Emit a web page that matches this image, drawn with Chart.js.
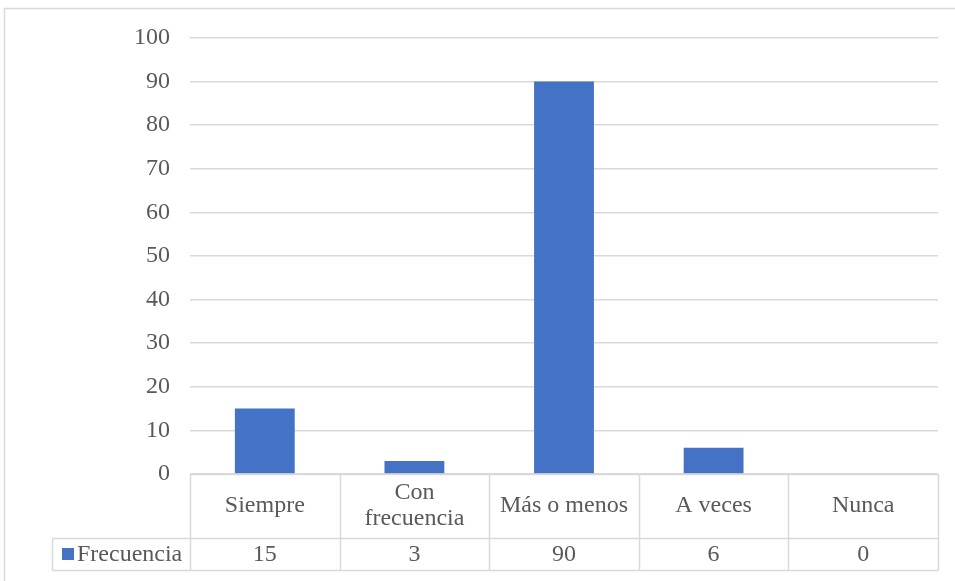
<!DOCTYPE html>
<html>
<head>
<meta charset="utf-8">
<script src="https://cdn.jsdelivr.net/npm/chart.js@4.4.1/dist/chart.umd.min.js"></script>
<style>
  html, body { margin: 0; padding: 0; background: #ffffff; }
  #wrap { position: relative; width: 955px; height: 581px; }
</style>
</head>
<body>
<div id="wrap"><canvas id="c" width="955" height="581"></canvas></div>
<script>
// Categories, one series and the value axis ticks
const categories = ['Siempre', ['Con', 'frecuencia'], 'Más o menos', 'A veces', 'Nunca'];
const seriesName = 'Frecuencia';
const frecuencia = [15, 3, 90, 6, 0];
const yTicks = [0, 10, 20, 30, 40, 50, 60, 70, 80, 90, 100];

const TEXT = '#595959';
const LINE = '#d9d9d9';
const BAR = '#4472c4';
const FONT = '"Liberation Serif", "Times New Roman", serif';
const FSIZE = 24;

// Draws the outer frame and the data table beneath the plot area
const dataTable = {
  id: 'dataTable',
  beforeDraw(chart) {
    const ctx = chart.ctx;
    ctx.save();
    ctx.fillStyle = '#ffffff';
    ctx.fillRect(0, 0, chart.width, chart.height);
    ctx.strokeStyle = LINE;
    ctx.lineWidth = 1.5;
    ctx.strokeRect(4.5, 8.5, chart.width + 10, chart.height + 10);
    ctx.restore();
  },
  afterDraw(chart) {
    const ctx = chart.ctx;
    const x = chart.scales.x;
    const area = chart.chartArea;
    const n = categories.length;
    const step = (area.right - area.left) / n;
    const top = area.bottom;
    const rowSplit = top + 64;
    const bottom = rowSplit + 32;
    const legendLeft = 52.5;

    ctx.save();
    ctx.strokeStyle = LINE;
    ctx.lineWidth = 1.5;
    ctx.beginPath();
    // header row top (category axis line)
    ctx.moveTo(area.left, top + 0.5); ctx.lineTo(area.right, top + 0.5);
    // row separator and bottom edge extend under the legend cell
    ctx.moveTo(legendLeft, rowSplit + 0.5); ctx.lineTo(area.right, rowSplit + 0.5);
    ctx.moveTo(legendLeft, bottom + 0.5); ctx.lineTo(area.right, bottom + 0.5);
    ctx.moveTo(legendLeft, rowSplit + 0.5); ctx.lineTo(legendLeft, bottom + 0.5);
    for (let i = 0; i <= n; i++) {
      const px = Math.round(area.left + i * step) + 0.5;
      ctx.moveTo(px, top); ctx.lineTo(px, bottom + 0.5);
    }
    ctx.stroke();

    ctx.fillStyle = TEXT;
    ctx.font = FSIZE + 'px ' + FONT;
    ctx.textAlign = 'center';
    ctx.textBaseline = 'middle';
    categories.forEach((c, i) => {
      const cx = x.getPixelForValue(i);
      const lines = Array.isArray(c) ? c : [c];
      const lh = 26;
      const y0 = (top + rowSplit) / 2 - (lines.length - 1) * lh / 2;
      lines.forEach((l, k) => ctx.fillText(l, cx, y0 + k * lh));
      ctx.fillText(String(frecuencia[i]), cx, (rowSplit + bottom) / 2 + 1);
    });

    // legend key inside the table
    const my = (rowSplit + bottom) / 2;
    ctx.fillStyle = BAR;
    ctx.fillRect(62, my - 6, 12, 12);
    ctx.fillStyle = TEXT;
    ctx.textAlign = 'left';
    ctx.fillText(seriesName, 77, my + 1);
    ctx.restore();
  }
};

new Chart(document.getElementById('c'), {
  type: 'bar',
  data: {
    labels: categories,
    datasets: [{
      label: seriesName,
      data: frecuencia,
      backgroundColor: BAR,
      borderWidth: 0,
      categoryPercentage: 0.4,
      barPercentage: 1.0
    }]
  },
  options: {
    responsive: false,
    animation: false,
    devicePixelRatio: 1,
    layout: { padding: { top: 38, bottom: 107, left: 0, right: 17 } },
    plugins: {
      legend: { display: false },
      tooltip: { enabled: false }
    },
    scales: {
      x: {
        display: false
      },
      y: {
        min: 0,
        max: 100,
        afterBuildTicks(scale) { scale.ticks = yTicks.map(v => ({ value: v })); },
        afterFit(scale) { scale.width = 190; },
        border: { display: false },
        grid: { color: LINE, lineWidth: 1.5, drawTicks: false },
        ticks: {
          color: TEXT,
          font: { family: FONT, size: FSIZE },
          padding: 20
        }
      }
    }
  },
  plugins: [dataTable]
});
</script>
</body>
</html>
